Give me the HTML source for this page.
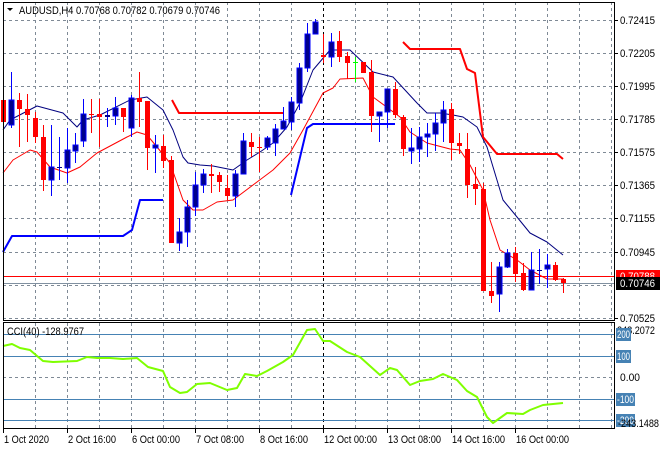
<!DOCTYPE html>
<html><head><meta charset="utf-8">
<style>
html,body{margin:0;padding:0;background:#fff;}
svg{display:block;font-family:"Liberation Sans",sans-serif;font-size:11px;}
</style></head>
<body>
<svg id="s" width="660" height="450" xmlns="http://www.w3.org/2000/svg">
<rect width="660" height="450" fill="#fff"/>
<g id="grid"></g>
<g id="series"></g>
<g id="cand"></g>
<g id="axis"></g>
</svg>
<script>
var NS="http://www.w3.org/2000/svg";
function el(p,t,a,txt){var e=document.createElementNS(NS,t);for(var k in a)e.setAttribute(k,a[k]);if(txt!==undefined)e.textContent=txt;document.getElementById(p).appendChild(e);return e;}
function tx(x,y,s,len,col){return el("axis","text",{x:x,y:y,fill:col||"#000",textLength:len,lengthAdjust:"spacingAndGlyphs"},s);}
var hy=[20,53,86,119,152,185,218,252,285,318];
hy.forEach(function(y){el("grid","line",{x1:3,x2:614,y1:y+.5,y2:y+.5,stroke:"#7f8a96","stroke-dasharray":"3,3"});});
for(var x=35;x<614;x+=32){var blk=(x==83||x==323||x==563);
 el("grid","line",{x1:x+.5,x2:x+.5,y1:2,y2:320,stroke:blk?"#000":"#7f8a96","stroke-dasharray":"3,3"});
 el("grid","line",{x1:x+.5,x2:x+.5,y1:323,y2:428,stroke:blk?"#000":"#7f8a96","stroke-dasharray":"3,3"});}
el("grid","line",{x1:3,x2:614,y1:377.5,y2:377.5,stroke:"#7f8a96","stroke-dasharray":"3,3"});
[334,356,399,420].forEach(function(y){el("grid","line",{x1:3,x2:614,y1:y+.5,y2:y+.5,stroke:"#4682b4"});});
el("grid","line",{x1:3,x2:614,y1:276.5,y2:276.5,stroke:"#f00"});
el("grid","line",{x1:3,x2:614,y1:283.5,y2:283.5,stroke:"#8090a0"});
function pl(pts,c,w){el("series","polyline",{points:pts,fill:"none",stroke:c,"stroke-width":w,"stroke-linejoin":"round"});}
pl("3,130 10,120 37,106 63,113 77,127 83,120 100,115 130,100 147,97 163,110 173,130 183,157 188,163 200,165 213,166 233,170 247,160 260,152 273,143 287,127 300,103 313,70 330,50 350,50 373,72 393,77 417,103 427,113 440,113 453,115 463,117 477,127 487,147 503,200 517,217 530,233 547,242 563,255","#00007f",1);
pl("3,173 13,160 30,150 37,152 50,167 67,173 80,167 97,153 127,137 137,132 147,135 157,147 170,163 183,200 193,210 203,210 217,202 233,200 257,182 273,170 290,153 303,130 323,93 333,88 340,79 363,78 373,97 400,117 410,132 427,143 450,149 460,150 470,165 483,190 490,220 500,250 517,260 530,270 547,279 563,279","#f00",1);
pl("3,252 12,236 123,236 132,230 140,200 163,200","#0000ff",2);
pl("291,195 307,128 313,124 395,124","#0000ff",2);
pl("172,100 179,113 283,113","#f00",2);
pl("403,42 410,49 460,49 467,69 475,73 483,137 497,154 557,154 563,159","#f00",2);
pl("3,346 12,344 20,348 30,350 43,361 53,362 77,361 87,357 97,358 110,358 123,359 137,358 148,367 163,371 170,387 180,393 187,392 197,384 210,383 227,390 237,388 245,374 257,376 267,371 283,362 293,355 307,330 315,329 323,341 330,341 347,352 360,357 380,375 390,368 397,370 410,385 420,381 433,379 443,374 457,380 467,391 477,397 487,417 493,423 507,413 523,414 530,410 543,405 563,403","#7fff00",2);
var C=[[3,'r',95,100,122,135],[11,'b',72,100,125,128],[19,'r',93,100,109,147],[27,'r',94,109,115,142],[35,'r',112,118,137,143],[43,'r',125,137,180,191],[51,'b',125,167,180,196],[59,'b',137,167,168,180],[67,'b',128,150,168,183],[75,'b',133,145,151,163],[83,'b',99,114,141,147],[91,'r',99,114,115,133],[99,'r',99,114,117,147],[107,'b',108,115,117,127],[115,'b',97,108,116,125],[123,'r',108,108,117,132],[131,'b',95,98,128,137],[139,'r',72,98,102,127],[147,'r',101,101,148,170],[155,'b',135,145,148,173],[163,'r',135,146,161,168],[171,'r',156,160,243,243],[179,'b',218,232,243,251],[187,'b',200,207,232,247],[195,'b',172,185,207,216],[203,'b',169,174,185,193],[211,'r',164,174,176,193],[219,'r',172,175,182,192],[227,'r',175,188,196,200],[235,'b',170,174,196,207],[243,'b',133,141,174,174],[251,'r',133,142,147,157],[259,'r',137,147,148,172],[267,'b',136,138,147,150],[275,'b',124,129,143,156],[283,'b',107,121,129,129],[291,'b',97,102,122,130],[299,'b',63,68,103,110],[307,'b',23,34,68,72],[315,'b',19,22,34,34],[323,'r',34,55,57,63],[331,'b',33,42,57,67],[339,'r',31,41,57,62],[347,'r',52,56,63,79],[355,'g',57,62,62,82],[363,'r',62,62,73,73],[371,'r',60,72,116,132],[379,'b',112,112,116,142],[387,'b',89,89,112,128],[395,'r',82,89,115,118],[403,'r',115,117,149,156],[411,'b',128,148,151,164],[419,'b',127,137,149,162],[427,'b',123,134,137,157],[435,'b',113,123,134,151],[443,'b',101,110,123,142],[451,'r',103,109,143,160],[459,'r',133,143,146,154],[467,'r',133,149,185,198],[475,'r',167,184,189,205],[483,'r',183,189,291,291],[491,'r',262,291,296,303],[499,'b',262,267,294,312],[507,'b',249,253,267,268],[515,'r',247,253,274,282],[523,'r',263,273,290,291],[531,'b',252,270,290,290],[539,'b',249,270,271,284],[547,'b',254,265,269,288],[555,'r',262,265,280,281],[563,'r',278,279,283,293]];
C.forEach(function(c){var x=c[0],col=c[1]=='b'?'#0000ff':(c[1]=='r'?'#ff0000':'#00ff00');
 el("cand","rect",{x:x,y:c[2],width:1,height:Math.max(1,c[5]-c[2]),fill:col});
 var fill=c[1]=='b'?'#00008b':col;var h=Math.max(1,c[4]-c[3]);
 el("cand","rect",{x:x-2,y:c[3],width:5,height:h,fill:fill,stroke:c[1]=='b'?'#0000ff':'none','stroke-width':c[1]=='b'&&h>2?1:0});});
el("axis","rect",{x:3.5,y:2.5,width:611,height:318,fill:"none",stroke:"#000"});
el("axis","rect",{x:3.5,y:322.5,width:611,height:106,fill:"none",stroke:"#000"});
el("axis","path",{d:"M7,8 L13,8 L10,11 Z",fill:"#000"});
tx(19,14,"AUDUSD,H4  0.70768 0.70782 0.70679 0.70746",201);
tx(7,335,"CCI(40) -128.9767",77);
var pv=["0.72415","0.72205","0.71995","0.71785","0.71575","0.71365","0.71155","0.70945",null,"0.70525"];
pv.forEach(function(v,i){if(!v)return;el("axis","line",{x1:614,x2:618,y1:hy[i]+.5,y2:hy[i]+.5,stroke:"#000"});tx(620,hy[i]+4,v,35);});
el("axis","rect",{x:616,y:270,width:44,height:12,fill:"#f00"});
tx(620,280,"0.70788",35,"#fff");
el("axis","rect",{x:616,y:277,width:44,height:13,fill:"#000"});
tx(620,287,"0.70746",35,"#fff");
tx(617,334,"248.2072",38);
[["200",334,15],["100",356,15],["-100",399,19],["-200",420,19]].forEach(function(a){el("axis","rect",{x:616,y:a[1]-6,width:a[2],height:13,fill:"#4682b4"});tx(617,a[1]+4,a[0],a[2]-2,"#fff");});
tx(620,381,"0.00",20);
tx(618,427,"-243.1488",41);
[["1 Oct 2020",3,45],["2 Oct 16:00",67,48],["6 Oct 00:00",131,48],["7 Oct 08:00",195,48],["8 Oct 16:00",259,48],["12 Oct 00:00",323,53],["13 Oct 08:00",387,53],["14 Oct 16:00",451,53],["16 Oct 00:00",515,53]].forEach(function(a){
 el("axis","line",{x1:a[1]+.5,x2:a[1]+.5,y1:429,y2:433,stroke:"#000"});
 tx(a[1]+1,443,a[0],a[2]);});
</script>
</body></html>
